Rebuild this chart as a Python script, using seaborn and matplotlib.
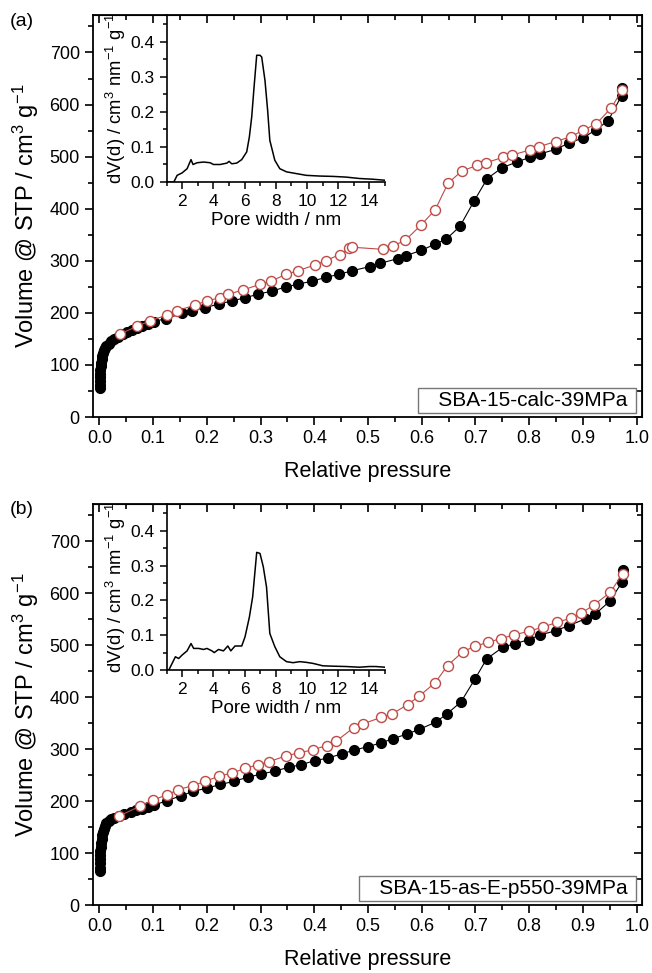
import numpy as np
import matplotlib
matplotlib.use("Agg")
import matplotlib.pyplot as plt
from matplotlib.ticker import MultipleLocator, FormatStrFormatter
import seaborn as sns

# (a) SBA-15-calc-39MPa isotherm
a_ads_p = [0.0002, 0.0004, 0.0007, 0.001, 0.0013, 0.0017, 0.0022, 0.003, 0.004, 0.005,
           0.0065, 0.008, 0.01, 0.013, 0.017, 0.022, 0.028, 0.035, 0.043, 0.052, 0.061,
           0.07, 0.08, 0.09, 0.101, 0.123, 0.154, 0.172, 0.197, 0.222, 0.247, 0.271,
           0.296, 0.322, 0.347, 0.370, 0.396, 0.421, 0.446, 0.471, 0.504, 0.522, 0.555,
           0.571, 0.599, 0.625, 0.646, 0.671, 0.697, 0.722, 0.750, 0.778, 0.802, 0.820,
           0.849, 0.874, 0.900, 0.925, 0.947, 0.972, 0.973]
a_ads_v = [56, 62, 69, 76, 83, 90, 97, 104, 111, 117, 123, 128, 133, 137, 141, 146, 150,
           154, 159, 163, 167, 171, 175, 179, 183, 189, 199, 204, 210, 217, 223, 229,
           236, 242, 250, 255, 261, 268, 274, 281, 289, 295, 304, 310, 320, 332, 342,
           366, 414, 458, 479, 490, 499, 505, 514, 526, 536, 552, 569, 617, 632]
a_des_p = [0.039, 0.070, 0.095, 0.126, 0.144, 0.178, 0.200, 0.224, 0.240, 0.268, 0.299,
           0.320, 0.347, 0.370, 0.401, 0.421, 0.447, 0.465, 0.471, 0.527, 0.547, 0.569,
           0.599, 0.625, 0.649, 0.674, 0.702, 0.719, 0.752, 0.768, 0.802, 0.818, 0.849,
           0.877, 0.901, 0.925, 0.953, 0.973]
a_des_v = [160, 174, 185, 196, 204, 215, 223, 229, 236, 244, 255, 261, 274, 281, 292,
           300, 312, 324, 326, 322, 329, 339, 369, 398, 449, 472, 483, 488, 499, 503,
           513, 519, 529, 538, 551, 563, 594, 628]

# (a) pore size distribution inset
a_psd_w = [1.0, 1.47, 1.68, 2.0, 2.32, 2.57, 2.70, 2.96, 3.38, 3.80, 4.01, 4.44, 4.87,
           5.01, 5.18, 5.50, 5.82, 6.14, 6.31, 6.46, 6.61, 6.78, 6.99, 7.10, 7.31, 7.48,
           7.62, 7.94, 8.26, 8.69, 9.32, 9.96, 10.81, 11.66, 12.51, 13.36, 14.2, 15.0]
a_psd_dv = [0.0, 0.0, 0.019, 0.026, 0.038, 0.064, 0.050, 0.055, 0.057, 0.055, 0.050,
            0.050, 0.054, 0.059, 0.052, 0.054, 0.064, 0.086, 0.129, 0.186, 0.271, 0.362,
            0.362, 0.357, 0.290, 0.205, 0.119, 0.062, 0.038, 0.029, 0.024, 0.019, 0.017,
            0.016, 0.014, 0.010, 0.008, 0.005]

# (b) SBA-15-as-E-p550-39MPa isotherm
b_ads_p = [0.0002, 0.0004, 0.0007, 0.001, 0.0013, 0.0017, 0.0022, 0.003, 0.004, 0.005,
           0.0065, 0.008, 0.01, 0.013, 0.017, 0.022, 0.028, 0.036, 0.046, 0.058, 0.068,
           0.079, 0.09, 0.101, 0.126, 0.151, 0.175, 0.200, 0.225, 0.250, 0.276, 0.301,
           0.327, 0.352, 0.375, 0.401, 0.426, 0.451, 0.474, 0.500, 0.524, 0.546, 0.572,
           0.595, 0.626, 0.647, 0.673, 0.699, 0.721, 0.752, 0.774, 0.799, 0.821, 0.849,
           0.874, 0.905, 0.923, 0.951, 0.973, 0.975]
b_ads_v = [65, 72, 80, 88, 96, 104, 112, 120, 127, 134, 141, 147, 152, 157, 161, 165,
           168, 172, 176, 179, 182, 185, 189, 192, 201, 210, 219, 225, 232, 238, 246,
           252, 258, 265, 270, 278, 283, 291, 298, 305, 312, 320, 329, 338, 352, 368,
           391, 435, 474, 497, 503, 511, 520, 528, 538, 551, 560, 586, 622, 644]
b_des_p = [0.036, 0.075, 0.100, 0.125, 0.147, 0.174, 0.197, 0.222, 0.247, 0.271, 0.295,
           0.316, 0.347, 0.372, 0.398, 0.423, 0.440, 0.473, 0.491, 0.524, 0.545, 0.574,
           0.595, 0.625, 0.648, 0.677, 0.699, 0.724, 0.748, 0.772, 0.799, 0.826, 0.851,
           0.877, 0.897, 0.921, 0.951, 0.974]
b_des_v = [171, 190, 202, 212, 222, 230, 238, 248, 254, 263, 270, 276, 287, 293, 299,
           307, 315, 341, 349, 361, 368, 386, 402, 428, 461, 488, 498, 506, 513, 520,
           527, 535, 544, 552, 562, 578, 602, 638]

# (b) pore size distribution inset
b_psd_w = [1.15, 1.36, 1.57, 1.78, 2.0, 2.32, 2.57, 2.74, 3.06, 3.38, 3.59, 3.91, 4.06,
           4.33, 4.65, 4.93, 5.12, 5.39, 5.82, 6.03, 6.31, 6.52, 6.78, 6.99, 7.2, 7.41,
           7.62, 7.94, 8.26, 8.69, 9.11, 9.54, 9.96, 10.38, 11.02, 11.66, 12.51, 13.36,
           14.0, 14.4, 15.0]
b_psd_dv = [0.0, 0.019, 0.038, 0.033, 0.043, 0.055, 0.076, 0.062, 0.062, 0.059, 0.062,
            0.055, 0.050, 0.059, 0.055, 0.069, 0.055, 0.069, 0.069, 0.095, 0.152, 0.21,
            0.338, 0.335, 0.297, 0.238, 0.105, 0.067, 0.038, 0.024, 0.021, 0.024, 0.022,
            0.019, 0.012, 0.011, 0.010, 0.008, 0.010, 0.010, 0.008]

panels = [
    ("(a)", "SBA-15-calc-39MPa", a_ads_p, a_ads_v, a_des_p, a_des_v, a_psd_w, a_psd_dv),
    ("(b)", "SBA-15-as-E-p550-39MPa", b_ads_p, b_ads_v, b_des_p, b_des_v, b_psd_w, b_psd_dv),
]

sns.set_style("ticks")
plt.rcParams["font.family"] = ["Liberation Sans", "DejaVu Sans"]
plt.rcParams["mathtext.default"] = "regular"
for key in ("text.color", "axes.labelcolor", "xtick.color", "ytick.color", "axes.edgecolor"):
    plt.rcParams[key] = "black"

W, H = 652, 973
red = "#bd4a45"
fig = plt.figure(figsize=(W / 100, H / 100), dpi=100)

# pixel boxes: (left, top, right, bottom)
main_boxes = [(93, 15, 642, 417), (93, 504, 642, 905)]
inset_boxes = [(166.5, 15, 385, 182), (166.5, 504, 385, 670)]


def frac(box):
    l, t, r, b = box
    return [l / W, 1 - b / H, (r - l) / W, (b - t) / H]


for i, (tag, name, ap, av, dp, dv, pw, pdv) in enumerate(panels):
    ax = fig.add_axes(frac(main_boxes[i]))
    sns.lineplot(x=ap, y=av, sort=False, estimator=None, ax=ax, color="black",
                 linewidth=0.8, marker="o", markersize=7.2, markerfacecolor="black",
                 markeredgecolor="black", markeredgewidth=0.8, zorder=3)
    sns.lineplot(x=dp, y=dv, sort=False, estimator=None, ax=ax, color=red,
                 linewidth=0.8, marker="o", markersize=7.2, markerfacecolor="white",
                 markeredgecolor=red, markeredgewidth=1.0, zorder=4)
    ax.set_xlim(-0.012, 1.01)
    ax.set_ylim(0, 772)
    ax.xaxis.set_major_locator(MultipleLocator(0.1))
    ax.xaxis.set_minor_locator(MultipleLocator(0.05))
    ax.xaxis.set_major_formatter(FormatStrFormatter("%.1f"))
    ax.yaxis.set_major_locator(MultipleLocator(100))
    ax.yaxis.set_minor_locator(MultipleLocator(50))
    ax.tick_params(which="both", direction="out", width=1.2, labelsize=13)
    ax.tick_params(which="major", length=6)
    ax.tick_params(which="minor", length=3.5)
    for s in ax.spines.values():
        s.set_linewidth(1.3)
    # mirrored inward ticks on top and right
    top = ax.secondary_xaxis("top")
    top.xaxis.set_major_locator(MultipleLocator(0.1))
    top.xaxis.set_minor_locator(MultipleLocator(0.05))
    top.tick_params(which="both", direction="in", labeltop=False, width=1.2)
    top.tick_params(which="major", length=6)
    top.tick_params(which="minor", length=3.5)
    right = ax.secondary_yaxis("right")
    right.yaxis.set_major_locator(MultipleLocator(100))
    right.yaxis.set_minor_locator(MultipleLocator(50))
    right.tick_params(which="both", direction="in", labelright=False, width=1.2)
    right.tick_params(which="major", length=6)
    right.tick_params(which="minor", length=3.5)

    ax.set_xlabel("Relative pressure", fontsize=15.5, labelpad=10)
    ax.set_ylabel("Volume @ STP / cm$^3$ g$^{-1}$", fontsize=17, labelpad=6)
    ax.text(0.984, 0.018, "   " + name + " ", transform=ax.transAxes, ha="right",
            va="bottom", fontsize=15,
            bbox=dict(boxstyle="square,pad=0.15", facecolor="white", edgecolor="#777777",
                      linewidth=1.0))
    fig.text(10 / W, 1 - (main_boxes[i][1] + 6) / H, tag, fontsize=14, va="center")

    # pore size distribution inset
    ins = fig.add_axes(frac(inset_boxes[i]))
    ins.patch.set_alpha(0)
    sns.lineplot(x=pw, y=pdv, sort=False, estimator=None, ax=ins, color="black",
                 linewidth=1.1)
    ins.set_xlim(1, 15)
    ins.set_ylim(0, 0.477)
    ins.xaxis.set_major_locator(MultipleLocator(2))
    ins.xaxis.set_minor_locator(MultipleLocator(1))
    ins.yaxis.set_major_locator(MultipleLocator(0.1))
    ins.yaxis.set_minor_locator(MultipleLocator(0.05))
    ins.yaxis.set_major_formatter(FormatStrFormatter("%.1f"))
    ins.tick_params(which="both", direction="out", width=1.1, labelsize=12.5)
    ins.tick_params(which="major", length=5)
    ins.tick_params(which="minor", length=3)
    ins.spines["top"].set_visible(False)
    ins.spines["right"].set_visible(False)
    for s in ("left", "bottom"):
        ins.spines[s].set_linewidth(1.2)
    ins.set_xlabel("Pore width / nm", fontsize=13.5, labelpad=2)
    ins.set_ylabel("dV(d) / cm$^3$ nm$^{-1}$ g$^{-1}$", fontsize=13.3, labelpad=2)

fig.savefig("out.png", dpi=100)
